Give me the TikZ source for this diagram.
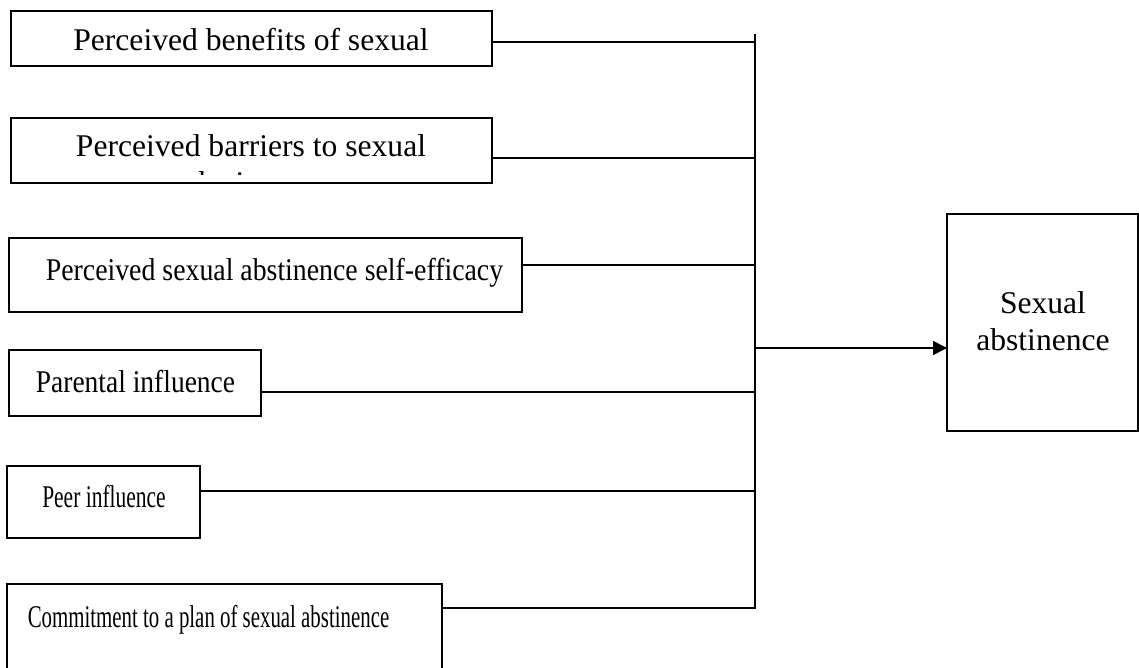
\documentclass[tikz,border=0pt]{standalone}
\usepackage{fontspec}
\usepackage{graphicx}
\setmainfont{Liberation Serif}
\usetikzlibrary{fit,arrows.meta}
\begin{document}
\begin{tikzpicture}[x=0.5pt,y=-0.5pt,
  frame/.style={draw, line width=0.9pt, inner sep=0pt, outer sep=0pt},
  lbl/.style={anchor=base, inner sep=0pt, font=\fontsize{15.8}{18.5}\selectfont},
  wire/.style={line width=0.9pt},
  arr/.style={wire, -{Triangle[length=7pt,width=7pt]}}]
\useasboundingbox (0,0) rectangle (1139,668);
\begin{scope}
\clip (0,0) rectangle (1139,668);

% predictor boxes
\node[frame, fit={(11,11) (492,66)}]   (b1) {};
\node[frame, fit={(11,118) (492,183)}] (b2) {};
\node[frame, fit={(9,238) (522,312)}]  (b3) {};
\node[frame, fit={(9,350) (261,416)}]  (b4) {};
\node[frame, fit={(7,466) (200,538)}]  (b5) {};
\node[frame, fit={(7,584) (442,690)}]  (b6) {};

% outcome box
\node[frame, fit={(947,214) (1138,431)}] (out) {};

% labels
\node[lbl] (t1) at (251,51) {Perceived benefits of sexual};
\node[lbl] (t2) at (251,157) {Perceived barriers to sexual};
\begin{scope}
  \clip (11,118) rectangle (492,174.5);
  \node[lbl] (t2b) at (251.5,194) {abstinence};
\end{scope}
\node[lbl] (t3) at (274.5,280) {\scalebox{0.88}[1]{Perceived sexual abstinence self-efficacy}};
\node[lbl] (t4) at (135.5,392) {\scalebox{0.87}[1]{Parental influence}};
\node[lbl] (t5) at (104,507) {\scalebox{0.68}[1]{Peer influence}};
\node[lbl] (t6) at (208.5,627) {\scalebox{0.66}[1]{Commitment to a plan of sexual abstinence}};
\node[lbl] (t7) at (1043,313) {Sexual};
\node[lbl] (t8) at (1043,350) {abstinence};

% collecting bus
\coordinate (bustop) at (755,34);
\coordinate (busbot) at (755,609);
\coordinate (j1) at (755,42);
\coordinate (j2) at (755,158);
\coordinate (j3) at (755,265);
\coordinate (j4) at (755,392);
\coordinate (j5) at (755,491);
\coordinate (j6) at (755,608);
\coordinate (ja) at (755,348);

\draw[wire] (bustop) -- (busbot);
\draw[wire] (b1.east |- j1) -- (j1);
\draw[wire] (b2.east |- j2) -- (j2);
\draw[wire] (b3.east |- j3) -- (j3);
\draw[wire] (b4.east |- j4) -- (j4);
\draw[wire] (b5.east |- j5) -- (j5);
\draw[wire] (b6.east |- j6) -- (j6);
\draw[arr] (ja) -- (out.west |- ja);
\end{scope}
\end{tikzpicture}
\end{document}
